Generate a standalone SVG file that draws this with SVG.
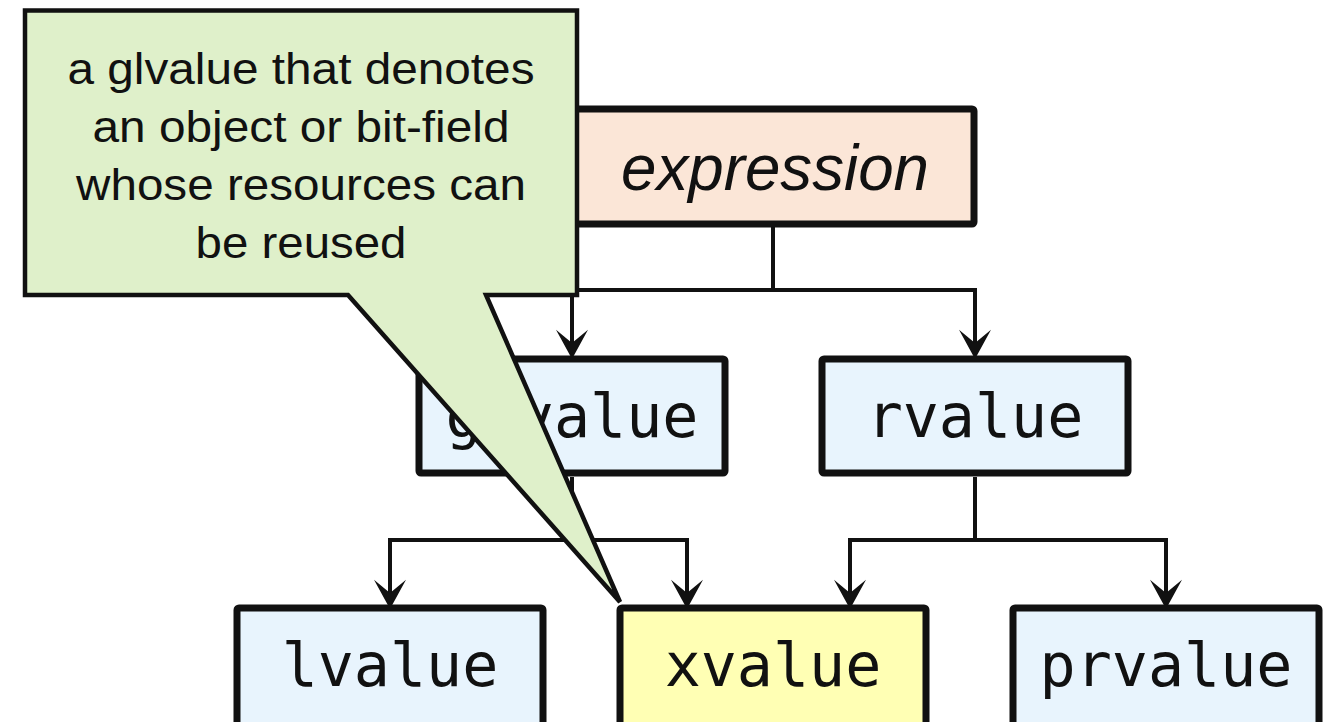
<svg xmlns="http://www.w3.org/2000/svg" width="1338" height="722" viewBox="0 0 1338 722">
<style>
.box{stroke:#111;stroke-width:7;stroke-linejoin:round}
.blue{fill:#e8f4fd}
.mono{font-family:"DejaVu Sans Mono",monospace;font-size:60px;fill:#111;text-anchor:middle}
.conn{fill:none;stroke:#111;stroke-width:4;stroke-linejoin:miter}
.callt{font-family:"Liberation Sans",Arial,sans-serif;font-size:44px;fill:#111;text-anchor:middle}
</style>
<defs>
<marker id="arr" markerUnits="userSpaceOnUse" markerWidth="40" markerHeight="40" viewBox="-15 -15 30 30" refX="0" refY="0" orient="auto-start-reverse" overflow="visible">
<path d="M12,0 L-10,-12 L0,0 L-10,12 Z" fill="#111"/>
</marker>
</defs>
<rect width="1338" height="722" fill="#fff"/>
<g id="connectors">
<path class="conn" d="M773,227 V290"/>
<path class="conn" d="M572,343 V290 H975 V343" marker-start="url(#arr)" marker-end="url(#arr)"/>
<path class="conn" d="M572,477 V540"/>
<path class="conn" d="M390,593 V540 H687 V593" marker-start="url(#arr)" marker-end="url(#arr)"/>
<path class="conn" d="M975,477 V540"/>
<path class="conn" d="M850,593 V540 H1166 V593" marker-start="url(#arr)" marker-end="url(#arr)"/>
</g>
<g id="expression">
<rect class="box" x="572" y="109" width="402" height="115" rx="2" fill="#fbe6d7"/>
<text x="775" y="190" font-family="Liberation Sans, Arial, sans-serif" font-style="italic" font-size="64" fill="#111" text-anchor="middle" textLength="308" lengthAdjust="spacingAndGlyphs">expression</text>
</g>
<g id="glvalue">
<rect class="box blue" x="419" y="359" width="306" height="114" rx="2"/>
<text class="mono" x="572" y="437">glvalue</text>
</g>
<g id="rvalue">
<rect class="box blue" x="822" y="359" width="306" height="114" rx="2"/>
<text class="mono" x="975" y="437">rvalue</text>
</g>
<g id="lvalue">
<rect class="box blue" x="237" y="608" width="306" height="130" rx="2"/>
<text class="mono" x="390" y="686">lvalue</text>
</g>
<g id="xvalue">
<rect class="box" x="620" y="608" width="306" height="130" rx="2" fill="#ffffb4"/>
<text class="mono" x="773" y="686">xvalue</text>
</g>
<g id="prvalue">
<rect class="box blue" x="1013" y="608" width="306" height="130" rx="2"/>
<text class="mono" x="1166" y="686">prvalue</text>
</g>
<g id="callout">
<path d="M25,10.5 H577 V295 H486 L620,602 L348,295 H25 Z" fill="#dff0ca" stroke="#111" stroke-width="4.5"/>
<text class="callt" x="301" y="84" textLength="467" lengthAdjust="spacingAndGlyphs">a glvalue that denotes</text>
<text class="callt" x="301" y="142" textLength="417" lengthAdjust="spacingAndGlyphs">an object or bit-field</text>
<text class="callt" x="301" y="200" textLength="450" lengthAdjust="spacingAndGlyphs">whose resources can</text>
<text class="callt" x="301" y="258" textLength="211" lengthAdjust="spacingAndGlyphs">be reused</text>
</g>
</svg>
